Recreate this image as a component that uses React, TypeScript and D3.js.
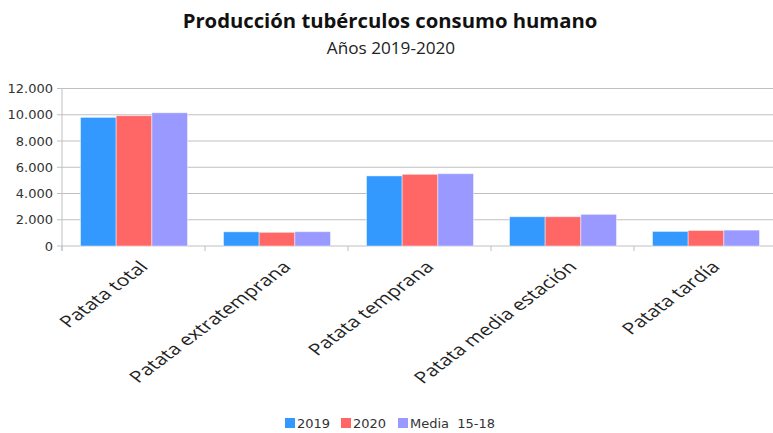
import React from "react";
import * as d3 from "d3";

const categories = [
  "Patata total",
  "Patata extratemprana",
  "Patata temprana",
  "Patata media estación",
  "Patata tardía",
];
const seriesNames = ["2019", "2020", "Media  15-18"];
const values2019 = [9800, 1080, 5340, 2230, 1110];
const values2020 = [9930, 1040, 5460, 2230, 1180];
const valuesMedia = [10150, 1090, 5510, 2410, 1210];
const seriesColors = ["#3399FF", "#FF6666", "#9999FF"];
const yTicks = [0, 2000, 4000, 6000, 8000, 10000, 12000];

const W = 773;
const H = 433;
const left = 62;
const right = 777;
const top = 88.5;
const bottom = 246;
const groupOffset = 18.5;
const groupWidth = 107;
const stretch = 1.33;

export default function App() {
  const series = [values2019, values2020, valuesMedia];
  const x = d3.scaleBand<string>().domain(categories).range([left, right]).paddingInner(0).paddingOuter(0);
  const inner = d3
    .scaleBand<number>()
    .domain([0, 1, 2])
    .range([groupOffset, groupOffset + groupWidth])
    .paddingOuter(0)
    .paddingInner(0);
  const y = d3.scaleLinear().domain([0, 12000]).range([bottom, top]);
  const fmt = (v: number) => d3.format(",")(v).replace(/,/g, ".");
  const catTicks = [...categories.map((c) => x(c)!), right];

  return (
    <svg
      width={W}
      height={H}
      style={{ position: "absolute", left: 0, top: 0, background: "#fff" }}
    >
      <text
        x={390}
        y={28}
        textAnchor="middle"
        fontFamily="Open Sans"
        fontWeight="bold"
        fontSize={19.5}
        fill="#111"
        transform="translate(390,0) scale(1.04,1) translate(-390,0)"
      >
        Producción tubérculos consumo humano
      </text>
      <text
        x={391}
        y={54.5}
        textAnchor="middle"
        fontFamily="Open Sans"
        fontSize={16.5}
        fill="#222"
        transform="translate(391,0) scale(1.04,1) translate(-391,0)"
      >
        Años 2019-2020
      </text>

      {yTicks.map((t) => (
        <g key={t}>
          <line x1={left} x2={W} y1={y(t)} y2={y(t)} stroke="#c0c0c0" strokeWidth={1} />
          <line x1={left - 5} x2={left} y1={y(t)} y2={y(t)} stroke="#c0c0c0" strokeWidth={1} />
          <text
            x={53}
            y={y(t)}
            dy="0.36em"
            textAnchor="end"
            fontFamily="DejaVu Sans"
            fontSize={13}
            fill="#333"
          >
            {fmt(t)}
          </text>
        </g>
      ))}
      <line x1={left} x2={left} y1={top} y2={bottom + 5} stroke="#c0c0c0" />
      {catTicks.map((cx, i) => (
        <line key={i} x1={cx} x2={cx} y1={bottom} y2={bottom + 5} stroke="#c0c0c0" />
      ))}

      {categories.map((c, ci) => (
        <g key={c} transform={`translate(${x(c)},0)`}>
          {series.map((s, si) => (
            <rect
              key={si}
              x={inner(si)}
              y={y(s[ci])}
              width={inner.bandwidth()}
              height={bottom - y(s[ci])}
              fill={seriesColors[si]}
              stroke="rgba(255,255,255,0.45)"
              strokeWidth={1}
            />
          ))}
        </g>
      ))}

      {categories.map((c) => (
        <text
          key={c}
          transform={`translate(${x(c)! + x.bandwidth() / 2 + 5},${bottom + 14}) scale(${stretch},1) rotate(-45)`}
          textAnchor="end"
          dy="0.7em"
          fontFamily="Open Sans"
          fontSize={16}
          fill="#222"
        >
          {c}
        </text>
      ))}

      {seriesNames.map((n, i) => {
        const lx = [285, 341, 398][i];
        return (
          <g key={n}>
            <rect x={lx} y={418} width={10} height={10} fill={seriesColors[i]} />
            <text
              x={lx + 12}
              y={428}
              fontFamily="DejaVu Sans"
              fontSize={13}
              fill="#333"
              style={{ whiteSpace: "pre" }}
            >
              {n}
            </text>
          </g>
        );
      })}
    </svg>
  );
}
